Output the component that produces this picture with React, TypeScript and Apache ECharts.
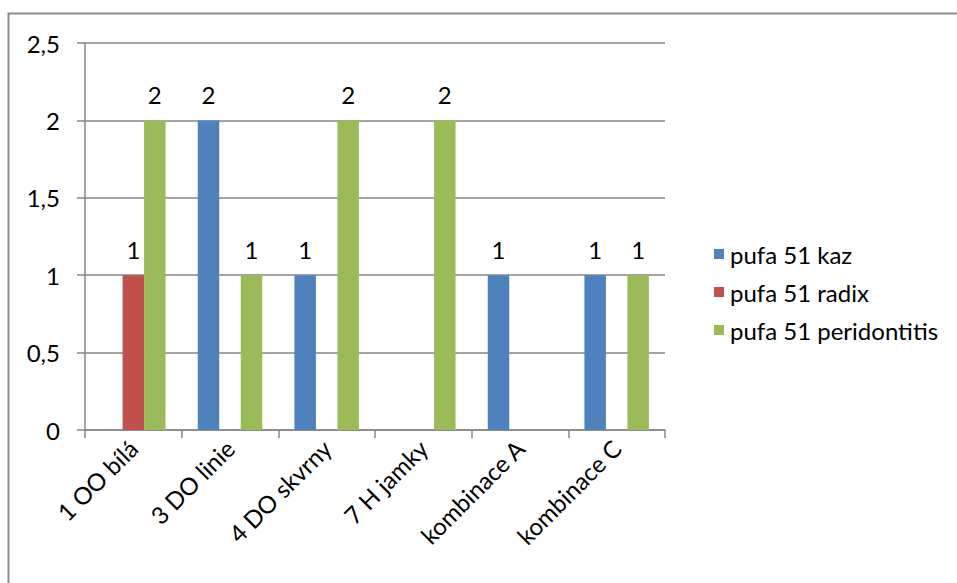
import React, { useEffect, useRef } from "react";
import * as echarts from "echarts";

const categories = ["1 OO bílá", "3 DO linie", "4 DO skvrny", "7 H jamky", "kombinace A", "kombinace C"];
const seriesNames = ["pufa 51 kaz", "pufa 51 radix", "pufa 51 peridontitis"];
const kaz = [null, 2, 1, null, 1, 1];
const radix = [1, null, null, null, null, null];
const peridontitis = [2, 1, 2, 2, null, 1];
const colors = ["#4F81BD", "#C0504D", "#9BBB59"];
const yTicks = { min: 0, max: 2.5, interval: 0.5 };

const FONT = "Lato";
const FS = 24;

export default function App() {
  const ref = useRef<HTMLDivElement>(null);
  useEffect(() => {
    if (!ref.current) return;
    const chart = echarts.init(ref.current, undefined, { renderer: "svg" });
    const values = [kaz, radix, peridontitis];
    chart.setOption({
      animation: false,
      backgroundColor: "#fff",
      textStyle: { fontFamily: FONT, color: "#000" },
      graphic: [
        {
          type: "rect",
          shape: { x: 8.5, y: 13.5, width: 1200, height: 1200 },
          style: { fill: "none", stroke: "#8c8c8c", lineWidth: 2 },
          silent: true,
        },
      ],
      grid: { left: 85, right: 292, top: 43, bottom: 153, containLabel: false },
      legend: {
        orient: "vertical",
        left: 709,
        top: 237,
        itemWidth: 10,
        itemHeight: 10,
        itemGap: 14,
        icon: "rect",
        data: seriesNames,
        textStyle: { fontFamily: FONT, fontSize: FS, color: "#000", lineHeight: 24, padding: [0, 0, 0, 1] },
      },
      xAxis: {
        type: "category",
        data: categories,
        axisLine: { lineStyle: { color: "#868686", width: 1.5 } },
        axisTick: { show: true, length: 8, alignWithLabel: false, lineStyle: { color: "#868686", width: 1.5 } },
        axisLabel: { rotate: 45, margin: 14, interval: 0, fontFamily: FONT, fontSize: FS, color: "#000" },
      },
      yAxis: {
        type: "value",
        min: yTicks.min,
        max: yTicks.max,
        interval: yTicks.interval,
        axisLine: { show: true, lineStyle: { color: "#868686", width: 1.5 } },
        axisTick: { show: true, length: 8, lineStyle: { color: "#868686", width: 1.5 } },
        splitLine: { show: true, lineStyle: { color: "#868686", width: 1.5 } },
        axisLabel: {
          margin: 25,
          fontFamily: FONT,
          fontSize: FS,
          color: "#000",
          formatter: (v: number) => String(v).replace(".", ","),
        },
      },
      series: seriesNames.map((name, i) => ({
        name,
        type: "bar",
        data: values[i],
        barGap: "0%",
        barCategoryGap: "33.3%",
        itemStyle: { color: colors[i] },
        label: {
          show: true,
          position: "top",
          distance: 14,
          fontFamily: FONT,
          fontSize: FS,
          color: "#000",
        },
      })),
    });
    return () => chart.dispose();
  }, []);
  return <div ref={ref} style={{ position: "absolute", left: 0, top: 0, width: 957, height: 583 }} />;
}
